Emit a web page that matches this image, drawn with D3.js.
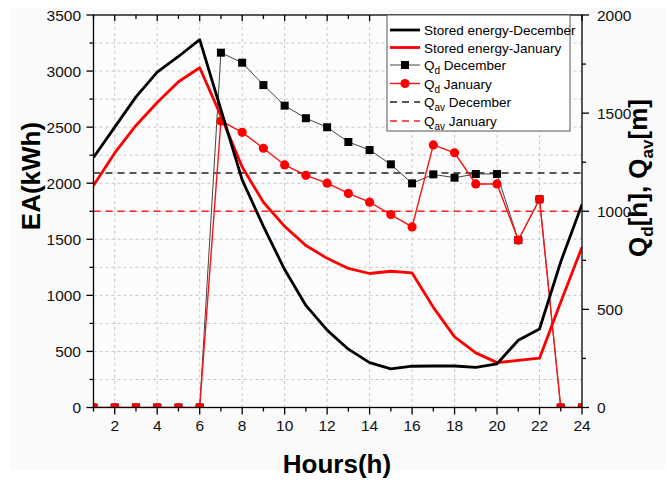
<!DOCTYPE html>
<html>
<head>
    <title>Stored energy and Qd</title>
    <style>
        body { margin: 0; background: #fff; font-family: "Liberation Sans", Arial, sans-serif; }
        svg { display: block; }
        .grid line { stroke: #c8c8c8; stroke-width: 1; stroke-dasharray: 3,3; }
        .tick-label { font-size: 15.5px; fill: #111; }
        .title { font-size: 26px; font-weight: bold; fill: #000; }
        .legend text { font-size: 13.5px; fill: #000; }
    </style>
</head>
<body>
    <svg id="chart" width="667" height="482"></svg>
    <script src="https://d3js.org/d3.v7.min.js"></script>
    <script>
        // Data
        const hours = [1, 2, 3, 4, 5, 6, 7, 8, 9, 10, 11, 12, 13, 14, 15, 16, 17, 18, 19, 20, 21, 22, 23, 24];
        const storedDec = [2230, 2500, 2770, 2990, 3130, 3280, 2655, 2030, 1615, 1230, 910, 690,
                           520, 400, 345, 368, 370, 370, 358, 390, 600, 700, 1300, 1810];
        const storedJan = [1980, 2270, 2515, 2720, 2905, 3030, 2600, 2145, 1830, 1615, 1445, 1330,
                           1240, 1195, 1215, 1200, 893, 630, 487, 400, 420, 440, 940, 1430];
        const qdDec = [0, 0, 0, 0, 0, 0, 1808, 1757, 1643, 1538, 1474, 1428,
                       1353, 1312, 1239, 1142, 1188, 1171, 1190, 1190, 853, 1061, 0, 0];
        const qdJan = [0, 0, 0, 0, 0, 0, 1460, 1402, 1321, 1236, 1183, 1143,
                       1091, 1046, 983, 920, 1338, 1298, 1139, 1139, 853, 1061, 0, 0];
        const qavDec = 1195;
        const qavJan = 1000;

        const xTicks = [2, 4, 6, 8, 10, 12, 14, 16, 18, 20, 22, 24];
        const leftTicks = [0, 500, 1000, 1500, 2000, 2500, 3000, 3500];
        const rightTicks = [0, 500, 1000, 1500, 2000];

        // Layout
        const pL = 93.5, pR = 582, pT = 15, pB = 407.5;
        const svg = d3.select("#chart");

        const x = d3.scaleLinear().domain([1, 24]).range([pL, pR]);
        const yL = d3.scaleLinear().domain([0, 3500]).range([pB, pT]);
        const yR = d3.scaleLinear().domain([0, 2000]).range([pB, pT]);

        // light page background
        svg.append("rect").attr("x", 10).attr("y", 8).attr("width", 655).attr("height", 462)
            .attr("fill", "#fafafa");
        svg.append("rect").attr("x", pL).attr("y", pT).attr("width", pR - pL).attr("height", pB - pT)
            .attr("fill", "#fcfcfc");

        // Grid
        const grid = svg.append("g").attr("class", "grid");
        grid.selectAll(".gx").data(d3.range(2, 24, 2)).enter().append("line")
            .attr("x1", d => x(d)).attr("x2", d => x(d)).attr("y1", pT).attr("y2", pB);
        grid.selectAll(".gy").data(d3.range(250, 3500, 250)).enter().append("line")
            .attr("x1", pL).attr("x2", pR).attr("y1", d => yL(d)).attr("y2", d => yL(d));

        // Clip
        svg.append("clipPath").attr("id", "clip").append("rect")
            .attr("x", pL).attr("y", pT).attr("width", pR - pL).attr("height", pB - pT);
        const plot = svg.append("g").attr("clip-path", "url(#clip)");

        const pts = vals => hours.map((h, i) => [h, vals[i]]);

        // Qav lines
        plot.append("line").attr("x1", pL).attr("x2", pR)
            .attr("y1", yR(qavDec)).attr("y2", yR(qavDec))
            .attr("stroke", "#222").attr("stroke-width", 1.6).attr("stroke-dasharray", "7,5");
        plot.append("line").attr("x1", pL).attr("x2", pR)
            .attr("y1", yR(qavJan)).attr("y2", yR(qavJan))
            .attr("stroke", "#ff2020").attr("stroke-width", 1.6).attr("stroke-dasharray", "7,5");

        // Qd December
        const lineR = d3.line().x(d => x(d[0])).y(d => yR(d[1]));
        plot.append("path").datum(pts(qdDec)).attr("d", lineR)
            .attr("fill", "none").attr("stroke", "#444").attr("stroke-width", 1);
        plot.selectAll(".sq").data(pts(qdDec)).enter().append("rect")
            .attr("x", d => x(d[0]) - 4).attr("y", d => yR(d[1]) - 4)
            .attr("width", 8).attr("height", 8).attr("fill", "#000");

        // Qd January
        plot.append("path").datum(pts(qdJan)).attr("d", lineR)
            .attr("fill", "none").attr("stroke", "#ff1010").attr("stroke-width", 1.4);
        plot.selectAll(".ci").data(pts(qdJan)).enter().append("circle")
            .attr("cx", d => x(d[0])).attr("cy", d => yR(d[1])).attr("r", 4.6)
            .attr("fill", "#ff0000");

        // Stored energy
        const lineL = d3.line().x(d => x(d[0])).y(d => yL(d[1]));
        plot.append("path").datum(pts(storedJan)).attr("d", lineL)
            .attr("fill", "none").attr("stroke", "#ff0000").attr("stroke-width", 2.8)
            .attr("stroke-linejoin", "round");
        plot.append("path").datum(pts(storedDec)).attr("d", lineL)
            .attr("fill", "none").attr("stroke", "#000").attr("stroke-width", 2.8)
            .attr("stroke-linejoin", "round");

        // Axes
        const axes = svg.append("g").attr("stroke", "#000").attr("stroke-width", 1.3);
        axes.append("rect").attr("x", pL).attr("y", pT).attr("width", pR - pL)
            .attr("height", pB - pT).attr("fill", "none");

        // bottom / top ticks
        hours.forEach(h => {
            const major = h % 2 === 0;
            axes.append("line").attr("x1", x(h)).attr("x2", x(h))
                .attr("y1", pB).attr("y2", pB + (major ? 7 : 4));
            axes.append("line").attr("x1", x(h)).attr("x2", x(h))
                .attr("y1", pT).attr("y2", pT + (major ? 6 : 4));
        });
        // left ticks
        d3.range(0, 3501, 250).forEach(v => {
            const major = v % 500 === 0;
            axes.append("line").attr("x1", pL).attr("x2", pL - (major ? 7 : 4))
                .attr("y1", yL(v)).attr("y2", yL(v));
        });
        // right ticks
        d3.range(0, 2001, 250).forEach(v => {
            const major = v % 500 === 0;
            axes.append("line").attr("x1", pR).attr("x2", pR + (major ? 7 : 4))
                .attr("y1", yR(v)).attr("y2", yR(v));
        });

        // Tick labels
        svg.append("g").selectAll("text").data(xTicks).enter().append("text")
            .attr("class", "tick-label").attr("x", d => x(d)).attr("y", 431)
            .attr("text-anchor", "middle").text(d => d);
        svg.append("g").selectAll("text").data(leftTicks).enter().append("text")
            .attr("class", "tick-label").attr("x", 81).attr("y", d => yL(d) + 5.5)
            .attr("text-anchor", "end").text(d => d);
        svg.append("g").selectAll("text").data(rightTicks).enter().append("text")
            .attr("class", "tick-label").attr("x", 597).attr("y", d => yR(d) + 5.5)
            .attr("text-anchor", "start").text(d => d);

        // Titles
        svg.append("text").attr("class", "title").attr("x", 337).attr("y", 473)
            .attr("text-anchor", "middle").text("Hours(h)");
        svg.append("text").attr("class", "title")
            .attr("transform", "translate(40,176) rotate(-90)")
            .attr("text-anchor", "middle").text("EA(kWh)");
        const rt = svg.append("text").attr("class", "title")
            .attr("transform", "translate(647,178) rotate(-90)")
            .attr("text-anchor", "middle");
        rt.append("tspan").text("Q");
        rt.append("tspan").attr("dy", 6).attr("font-size", "17px").text("d");
        rt.append("tspan").attr("dy", -6).text("[h], Q");
        rt.append("tspan").attr("dy", 6).attr("font-size", "17px").text("av");
        rt.append("tspan").attr("dy", -6).text("[m]");

        // Legend
        const lg = svg.append("g").attr("class", "legend");
        lg.append("rect").attr("x", 387).attr("y", pT).attr("width", 183).attr("height", 116)
            .attr("fill", "#fff").attr("stroke", "#555").attr("stroke-width", 1);
        const items = [
            { label: ["Stored energy-December"], color: "#000", w: 2.8, dash: null, mark: null },
            { label: ["Stored energy-January"], color: "#ff0000", w: 2.8, dash: null, mark: null },
            { label: ["Q", "d", " December"], color: "#444", w: 1, dash: null, mark: "square" },
            { label: ["Q", "d", " January"], color: "#ff1010", w: 1.4, dash: null, mark: "circle" },
            { label: ["Q", "av", " December"], color: "#222", w: 1.6, dash: "7,5", mark: null },
            { label: ["Q", "av", " January"], color: "#ff2020", w: 1.6, dash: "7,5", mark: null }
        ];
        const rowY = [30, 47.5, 65, 83.5, 102, 121];
        items.forEach((it, i) => {
            const y = rowY[i];
            lg.append("line").attr("x1", 390).attr("x2", 420).attr("y1", y).attr("y2", y)
                .attr("stroke", it.color).attr("stroke-width", it.w)
                .attr("stroke-dasharray", it.dash);
            if (it.mark === "square") {
                lg.append("rect").attr("x", 401).attr("y", y - 4).attr("width", 8).attr("height", 8)
                    .attr("fill", "#000");
            } else if (it.mark === "circle") {
                lg.append("circle").attr("cx", 405).attr("cy", y).attr("r", 4.6).attr("fill", "#ff0000");
            }
            const t = lg.append("text").attr("x", 424).attr("y", y + 5);
            if (it.label.length === 1) {
                t.text(it.label[0]);
            } else {
                t.append("tspan").text(it.label[0]);
                t.append("tspan").attr("dy", 4).attr("font-size", "10px").text(it.label[1]);
                t.append("tspan").attr("dy", -4).text(it.label[2]);
            }
        });
    </script>
</body>
</html>
